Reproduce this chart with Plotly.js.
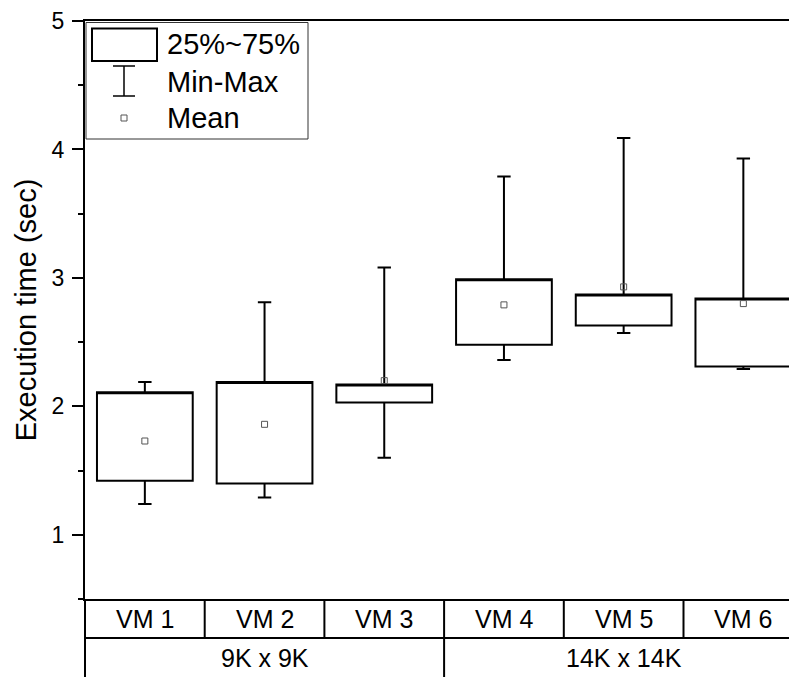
<!DOCTYPE html>
<html><head><meta charset="utf-8">
<script src="https://cdn.plot.ly/plotly-3.0.1.min.js"></script>
<style>html,body{margin:0;padding:0;background:#fff}#chart{width:789px;height:677px}</style>
</head><body><div id="chart"></div>
<script>
// ---- data ----
const categories = ['VM 1', 'VM 2', 'VM 3', 'VM 4', 'VM 5', 'VM 6'];
const groups = ['9K x 9K', '14K x 14K'];
const groupStart = [0, 3];
const groupEnd = [2, 5];
const q1 = [1.42, 1.40, 2.03, 2.48, 2.63, 2.31];
const q3 = [2.11, 2.19, 2.17, 2.99, 2.87, 2.84];
const minV = [1.24, 1.29, 1.60, 2.36, 2.57, 2.29];
const maxV = [2.19, 2.81, 3.08, 3.79, 4.09, 3.93];
const meanV = [1.73, 1.86, 2.20, 2.79, 2.93, 2.80];
const legendLabels = ['25%~75%', 'Min-Max', 'Mean'];
const yTicks = [1, 2, 3, 4, 5];

// ---- layout helpers ----
const W = 789, H = 677;
const M = {l: 85, r: 0, t: 21, b: 78};
const PW = W - M.l - M.r, PH = H - M.t - M.b;
const xMin = -0.5, xMax = -0.5 + PW / 119.7;
const FONT = 'Liberation Sans, Arial, sans-serif';
const px = x => (x - M.l) / PW;            // pixel -> paper x
const py = y => (H - M.b - y) / PH;         // pixel -> paper y
const dx = v => (v - xMin) / (xMax - xMin); // data x -> paper x

const idx = categories.map((c, i) => i);

const boxTrace = {
  type: 'box', x: idx,
  q1: q1, median: q3, q3: q3,
  lowerfence: minV, upperfence: maxV,
  width: 0.8, whiskerwidth: 0.14,
  fillcolor: 'white',
  line: {color: 'black', width: 2},
  boxpoints: false, showlegend: false, hoverinfo: 'skip'
};
const meanTrace = {
  type: 'scatter', mode: 'markers', x: idx, y: meanV,
  marker: {symbol: 'square-open', size: 6, color: '#555', line: {width: 1, color: '#555'}},
  showlegend: false, hoverinfo: 'skip'
};

const shapes = [];
const annotations = [];
const thick = {color: 'black', width: 2};
// table under the axis
shapes.push({type: 'line', xref: 'paper', yref: 'paper', x0: 0, x1: 1, y0: py(638), y1: py(638), line: thick});
shapes.push({type: 'line', xref: 'paper', yref: 'paper', x0: 0, x1: 0, y0: 0, y1: py(H + 2), line: thick});
for (let i = 0; i < categories.length - 1; i++) {
  const isGroupEdge = groupEnd.indexOf(i) >= 0;
  shapes.push({type: 'line', xref: 'paper', yref: 'paper', x0: dx(i + 0.5), x1: dx(i + 0.5),
    y0: 0, y1: isGroupEdge ? py(H + 2) : py(638), line: thick});
}
categories.forEach((c, i) => annotations.push({
  text: c, xref: 'x', yref: 'paper', x: i, y: py(618.5), xanchor: 'center', yanchor: 'middle',
  showarrow: false, font: {family: FONT, size: 25, color: 'black'}
}));
groups.forEach((g, k) => annotations.push({
  text: g, xref: 'x', yref: 'paper', x: (groupStart[k] + groupEnd[k]) / 2, y: py(658), xanchor: 'center', yanchor: 'middle',
  showarrow: false, font: {family: FONT, size: 25, color: 'black'}
}));

// legend (drawn by hand)
shapes.push({type: 'rect', xref: 'paper', yref: 'paper', x0: px(86), x1: px(308), y0: py(139), y1: py(22.5),
  line: {color: '#333', width: 1}, fillcolor: 'white'});
shapes.push({type: 'rect', xref: 'paper', yref: 'paper', x0: px(92), x1: px(157), y0: py(61), y1: py(28.5),
  line: {color: 'black', width: 2}, fillcolor: 'white'});
shapes.push({type: 'line', xref: 'paper', yref: 'paper', x0: px(124), x1: px(124), y0: py(96), y1: py(66), line: {color: 'black', width: 1.5}});
shapes.push({type: 'line', xref: 'paper', yref: 'paper', x0: px(113), x1: px(135), y0: py(66), y1: py(66), line: {color: 'black', width: 1.5}});
shapes.push({type: 'line', xref: 'paper', yref: 'paper', x0: px(113), x1: px(135), y0: py(96), y1: py(96), line: {color: 'black', width: 1.5}});
shapes.push({type: 'rect', xref: 'paper', yref: 'paper', x0: px(121), x1: px(127), y0: py(121), y1: py(115), line: {color: '#555', width: 1}});
const legendY = [44, 82, 118];
legendLabels.forEach((t, k) => annotations.push({
  text: t, xref: 'paper', yref: 'paper', x: px(165), y: py(legendY[k]), xanchor: 'left', yanchor: 'middle',
  showarrow: false, font: {family: FONT, size: 29, color: 'black'}
}));

const layout = {
  width: W, height: H, margin: M,
  paper_bgcolor: 'white', plot_bgcolor: 'white',
  font: {family: FONT, color: 'black', size: 23},
  showlegend: false,
  xaxis: {
    range: [xMin, xMax], showgrid: false, zeroline: false,
    showline: true, linecolor: 'black', linewidth: 2, mirror: true,
    ticks: '', showticklabels: false, fixedrange: true
  },
  yaxis: {
    range: [0.5, 5], showgrid: false, zeroline: false,
    showline: true, linecolor: 'black', linewidth: 2,
    tickvals: yTicks, ticktext: yTicks.map(String),
    ticks: 'outside', ticklen: 11, tickwidth: 2, tickcolor: 'black',
    tickfont: {family: FONT, size: 23, color: 'black'},
    ticklabelstandoff: 3,
    minor: {tick0: 0.5, dtick: 0.5, ticks: 'outside', ticklen: 5, tickwidth: 2, tickcolor: 'black'},
    title: {text: 'Execution time (sec)', font: {family: FONT, size: 29, color: 'black'}, standoff: 6},
    fixedrange: true
  },
  shapes: shapes,
  annotations: annotations
};

Plotly.newPlot('chart', [boxTrace, meanTrace], layout, {displayModeBar: false, staticPlot: true});
</script>
</body></html>
